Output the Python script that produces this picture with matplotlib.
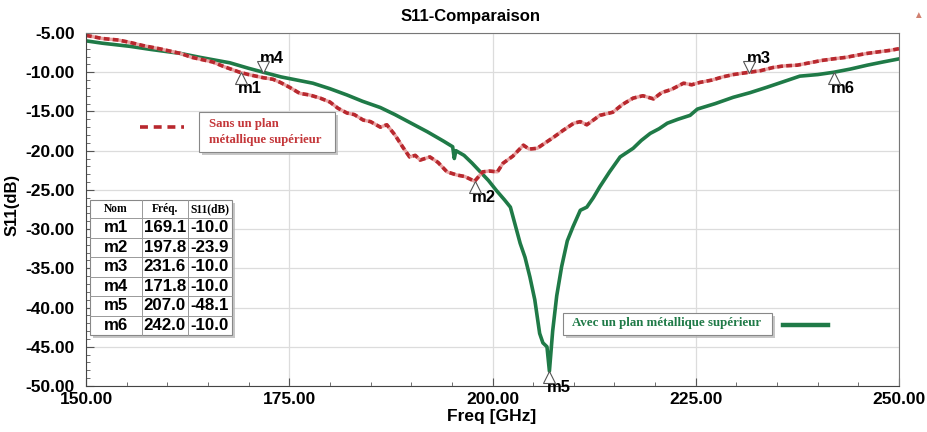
import matplotlib
matplotlib.use("Agg")
import matplotlib.pyplot as plt
from matplotlib.patches import Rectangle
from matplotlib.lines import Line2D
from matplotlib.transforms import ScaledTranslation

plt.rcParams["font.family"] = ["Liberation Sans", "DejaVu Sans"]

# curve without metal plane (red, dashed)
freq_sans = [150, 152, 154, 155.4, 157, 159, 161.6, 163, 165.6, 167, 168.9, 170, 171.8, 173, 173.9,
             175, 176.3, 177.5, 178.8, 180, 181, 182.1, 183, 184.1, 185, 186.2, 187, 188, 189, 189.8,
             190.5, 191.1, 192.3, 193.3, 194.4, 195.6, 196.6, 197.8, 198.8, 199.6, 200.6, 201.3, 202.5,
             203.8, 204.5, 205.5, 206.5, 207.5, 208.7, 210, 210.8, 211.6, 213.2, 214.8, 216, 217.3,
             218.5, 219.8, 220.8, 222, 223.5, 224.5, 225.5, 227, 228.3, 229.6, 231.6, 233, 234.5,
             235.8, 237.5, 239, 240.5, 241.9, 243.5, 245, 246.1, 247.5, 249, 250]
s11_sans = [-5.3, -5.7, -5.9, -6.2, -6.6, -7.0, -7.6, -8.1, -8.7, -9.3, -10.0, -10.3, -10.7, -10.9, -11.3,
            -11.9, -12.7, -12.9, -13.3, -13.8, -14.6, -15.2, -15.4, -16.1, -16.3, -17.0, -16.7, -18.0, -19.6, -20.8,
            -20.6, -21.2, -20.8, -21.5, -22.7, -23.1, -23.3, -23.9, -22.7, -22.6, -22.7, -21.6, -20.7,
            -19.3, -19.8, -19.7, -19.0, -18.3, -17.4, -16.5, -16.3, -16.7, -15.5, -15.1, -14.1, -13.3,
            -13.0, -13.4, -12.6, -12.2, -11.4, -11.6, -11.3, -11.0, -10.6, -10.3, -10.0, -9.8, -9.4,
            -9.2, -9.1, -8.8, -8.5, -8.3, -8.1, -7.8, -7.6, -7.4, -7.2, -7.0]

# curve with metal plane (green, solid)
freq_avec = [150, 152, 155.4, 158, 161.6, 164, 167.7, 170, 171.8, 174, 177.9, 180, 182.1, 184, 186.2,
             188, 190, 192, 194, 195.1, 195.3, 195.5, 196.5, 197.5, 198.5, 199.5, 200.5, 201.5, 202.2,
             202.8, 203.4, 204, 204.6, 205.2, 205.8, 206.2, 206.7, 207.0, 207.4, 207.9, 208.5, 209.2,
             209.9, 210.8, 211.6, 212.4, 213.2, 214.4, 215.7, 217.3, 218.3, 219.4, 220.5, 221.5, 222.8,
             224.3, 225.2, 227.4, 229.6, 231.7, 233.8, 235.8, 237.8, 240, 242, 244, 246.1, 248, 250]
s11_avec = [-6.0, -6.3, -6.7, -7.1, -7.6, -8.1, -8.8, -9.5, -10.0, -10.6, -11.4, -12.1, -12.9, -13.7, -14.5,
            -15.4, -16.5, -17.6, -18.8, -19.5, -21.0, -20.0, -20.6, -21.6, -22.7, -23.8, -25.1, -26.3, -27.2,
            -29.5, -31.8, -33.6, -36.1, -39.0, -43.3, -44.5, -45.0, -48.1, -43.0, -38.5, -34.8, -31.5,
            -29.7, -27.6, -27.2, -26.0, -24.6, -22.7, -20.8, -19.7, -18.7, -17.8, -17.2, -16.5, -16.0,
            -15.5, -14.7, -14.0, -13.2, -12.6, -11.9, -11.2, -10.5, -10.3, -10.0, -9.6, -9.1, -8.7, -8.3]

# markers
mk_names = ["m1", "m2", "m3", "m4", "m5", "m6"]
mk_freq = [169.1, 197.8, 231.6, 171.8, 207.0, 242.0]
mk_s11 = [-10.0, -23.9, -10.0, -10.0, -48.1, -10.0]
mk_up = [True, True, False, False, True, True]

x_ticks = [150, 175, 200, 225, 250]
y_ticks = [-5, -10, -15, -20, -25, -30, -35, -40, -45, -50]

red = "#b8282e"
green = "#1f7a47"

W, H = 927, 432
fig = plt.figure(figsize=(W / 100, H / 100), dpi=100)


def fx(x):
    return x / W


def fy(y):
    return 1 - y / H


ax = fig.add_axes([fx(86), fy(386), fx(899) - fx(86), fy(33) - fy(386)])
ax.set_xlim(150, 250)
ax.set_ylim(-50, -5)
ax.set_xticks(x_ticks)
ax.set_xticklabels(["%.2f" % v for v in x_ticks])
ax.set_yticks(y_ticks)
ax.set_yticklabels(["%.2f" % v for v in y_ticks])
ax.set_xticks(range(150, 251, 5), minor=True)
ax.set_yticks(range(-50, -4, 1), minor=True)
ax.tick_params(which="both", direction="in", colors="#555555", labelcolor="black")
ax.tick_params(which="major", length=6, width=0.8, labelsize=12.5)
ax.tick_params(which="minor", length=3, width=0.6)
ax.tick_params(axis="x", pad=4)
ax.tick_params(axis="y", pad=8)
for lab in ax.get_xticklabels() + ax.get_yticklabels():
    lab.set_fontweight("bold")
ax.grid(True, which="major", color="#dcdcdc", lw=0.9)
ax.set_axisbelow(True)
for s in ["left", "bottom"]:
    ax.spines[s].set_color("#444444")
for s in ["top", "right"]:
    ax.spines[s].set_color("#777777")

ax.plot(freq_avec, s11_avec, color=green, lw=2.6, solid_joinstyle="round")
ax.plot(freq_sans, s11_sans, color="#e9a4a4", lw=2.4)
ax.plot(freq_sans, s11_sans, color=red, lw=2.6, ls=(0, (1.6, 0.9)))

# marker triangles and labels
for name, f, v, up in zip(mk_names, mk_freq, mk_s11, mk_up):
    dy = -4 if up else 4
    tr = ax.transData + ScaledTranslation(0, dy / 72, fig.dpi_scale_trans)
    ax.plot([f], [v], marker="^" if up else "v", ms=8, mfc="white", mec="#555555", mew=0.8,
            transform=tr, zorder=5, clip_on=False)
    ax.annotate(name, (f, v), xytext=(6.5, -11.5 if up else 10), textcoords="offset points",
                ha="center", va="center", fontsize=12, fontweight="bold", annotation_clip=False)

# title and axis labels
fig.text(fx(471), fy(17), "S11-Comparaison", ha="center", va="center", fontsize=12, fontweight="bold")
fig.text(fx(492), fy(417), "Freq [GHz]", ha="center", va="center", fontsize=12.5, fontweight="bold")
fig.text(fx(12), fy(205), "S11(dB)", ha="center", va="center", rotation=90, fontsize=12,
         fontweight="bold")
fig.text(fx(918), fy(15), "\u25b2", ha="center", va="center", fontsize=7, color="#d08070")


def box(x0, y0, x1, y1):
    fig.add_artist(Rectangle((fx(x0 + 3), fy(y1 + 3)), fx(x1 - x0), fy(y0) - fy(y1),
                             transform=fig.transFigure, fc="#b0b0b0", ec="none", alpha=0.7))
    fig.add_artist(Rectangle((fx(x0), fy(y1)), fx(x1 - x0), fy(y0) - fy(y1),
                             transform=fig.transFigure, fc="white", ec="#888888", lw=0.8))


# legend: without plane
box(199, 112, 335, 152)
fig.text(fx(209), fy(132), "Sans un plan\nmétallique supérieur", ha="left", va="center",
         fontsize=9.2, fontweight="bold", color="#c4373a", family=["Liberation Serif", "DejaVu Serif"],
         linespacing=1.35)
fig.add_artist(Line2D([fx(140), fx(184)], [fy(127), fy(127)], transform=fig.transFigure,
                      color=red, lw=2.6, ls=(0, (2.2, 1.6))))

# legend: with plane
box(563, 313, 772, 335)
fig.text(fx(572), fy(323), "Avec un plan métallique supérieur", ha="left", va="center",
         fontsize=9.3, fontweight="bold", color=green, family=["Liberation Serif", "DejaVu Serif"])
fig.add_artist(Line2D([fx(783), fx(828)], [fy(325), fy(325)], transform=fig.transFigure,
                      color=green, lw=3.2))

# marker table
col_x = [90, 142, 188, 232]
row_y = [200, 218] + [218 + 19.5 * (i + 1) for i in range(6)]
fig.add_artist(Rectangle((fx(col_x[0] + 3), fy(row_y[-1] + 3)), fx(col_x[-1] - col_x[0]),
                         fy(row_y[0]) - fy(row_y[-1]), transform=fig.transFigure,
                         fc="#b0b0b0", ec="none", alpha=0.7))
fig.add_artist(Rectangle((fx(col_x[0]), fy(row_y[-1])), fx(col_x[-1] - col_x[0]),
                         fy(row_y[0]) - fy(row_y[-1]), transform=fig.transFigure,
                         fc="white", ec="#888888", lw=0.8))
for xx in col_x[1:-1]:
    fig.add_artist(Line2D([fx(xx), fx(xx)], [fy(row_y[0]), fy(row_y[-1])], transform=fig.transFigure,
                          color="#999999", lw=0.7))
for yy in row_y[1:-1]:
    fig.add_artist(Line2D([fx(col_x[0]), fx(col_x[-1])], [fy(yy), fy(yy)], transform=fig.transFigure,
                          color="#999999", lw=0.7))
headers = ["Nom", "Fréq.", "S11(dB)"]
for i, hd in enumerate(headers):
    fig.text(fx((col_x[i] + col_x[i + 1]) / 2), fy((row_y[0] + row_y[1]) / 2), hd, ha="center",
             va="center", fontsize=8.3, fontweight="bold", family=["Liberation Serif", "DejaVu Serif"])
for r, (name, f, v) in enumerate(zip(mk_names, mk_freq, mk_s11)):
    yc = fy((row_y[r + 1] + row_y[r + 2]) / 2)
    cells = [name, "%.1f" % f, "%.1f" % v]
    for i, c in enumerate(cells):
        fig.text(fx((col_x[i] + col_x[i + 1]) / 2), yc, c, ha="center", va="center",
                 fontsize=12.2, fontweight="bold")

fig.savefig("out.png", dpi=100)
